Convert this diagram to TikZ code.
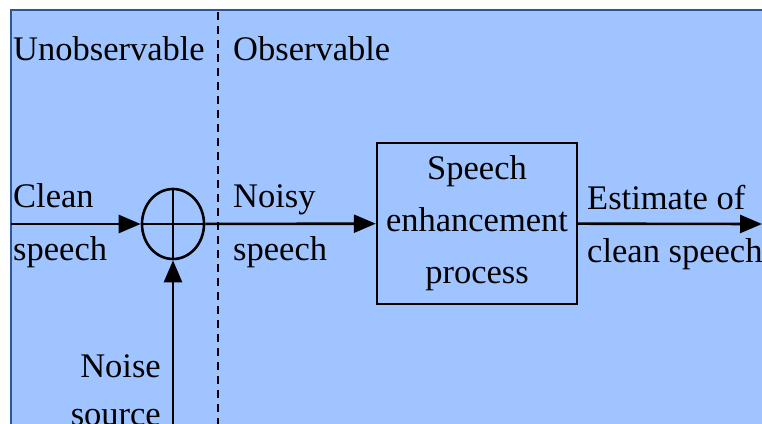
\documentclass[tikz,border=0pt]{standalone}
\usepackage{fontspec}
\setmainfont{LiberationSerif}[Extension=.ttf, UprightFont=*-Regular]
\usetikzlibrary{arrows.meta, shapes.geometric}
\definecolor{panelblue}{HTML}{A0C4FF}
\definecolor{edgeblue}{HTML}{2F5597}
\tikzset{
  flow/.style={-{Triangle[length=22pt, width=18pt]}, line width=2.6pt},
  lbl/.style={inner sep=0pt, font=\fontsize{34.5}{53}\selectfont},
}

\begin{document}
\begin{tikzpicture}[x=1pt, y=-1pt]
      \useasboundingbox (0,0) rectangle (762,423);
      % Background panel
      \fill[panelblue] (11,10) rectangle (770,430);
      \draw[edgeblue, line width=2pt] (770,10) -- (11,10) -- (11,430);
      % Divider
      \draw[line width=2.8pt, dash pattern=on 8pt off 6pt] (218,12) -- (218,430);
      % Blocks
      \node[draw, ellipse, line width=2.6pt, minimum width=62pt, minimum height=70pt, inner sep=0pt] (sum) at (173,224) {};
      \node[draw, line width=2.4pt, minimum width=200pt, minimum height=161pt, inner sep=0pt, align=center, font=\fontsize{34.5}{52}\selectfont] (enh) at (477,223.5) {Speech\\enhancement\\process};
      \draw[line width=2.4pt] (sum.north) -- (sum.south);
      \draw[line width=2.4pt] (sum.west) -- (sum.east);
      % Free ends
      \coordinate (in) at (11,224);
      \coordinate (noise) at (173,430);
      \coordinate (out) at (762,224);
      % Signal flow
      \draw[flow] (in) -- (sum);
      \draw[flow] (noise) -- (sum);
      \draw[flow] (sum) -- (enh);
      \draw[flow] (enh) -- (out);
      % Labels
      \node[lbl, anchor=base west] (unobs) at (13,60) {Unobservable};
      \node[lbl, anchor=base west] (obs) at (233,60) {Observable};
      \node[lbl, anchor=base west, align=left] (clean) at (13,260) {Clean\\speech};
      \node[lbl, anchor=base west, align=left] (noisy) at (233,260) {Noisy\\speech};
      \node[lbl, anchor=base east, align=right, font=\fontsize{34.5}{48}\selectfont] (src) at (161,425) {Noise\\source};
      \node[lbl, anchor=base west, align=left] (est) at (587,262) {Estimate of\\clean speech};
    \end{tikzpicture}
\end{document}
